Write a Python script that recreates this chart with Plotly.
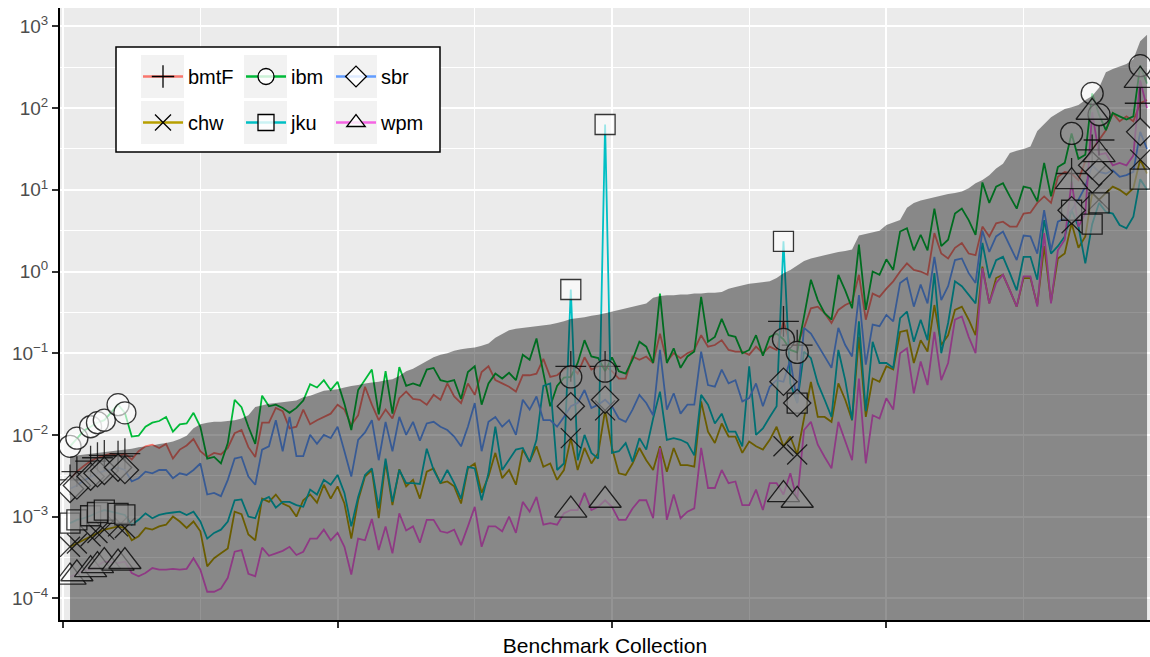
import plotly.graph_objects as go

# ---------------- data (values stored as log10 of the plotted quantity) ----------------
# benchmark index 1..158 (sorted by the reference quantity shown as the grey area)
n_bench = 158
bench = list(range(1, n_bench + 1))

area_log10 = [
    -2.26, -2.25, -2.24, -2.23, -2.22, -2.21, -2.20, -2.19, -2.18,
    -2.17, -2.15, -2.14, -2.13, -2.11, -2.10, -2.08, -2.05, -2.01, -1.92,
    -1.87, -1.85, -1.84, -1.84, -1.83, -1.82, -1.80, -1.76, -1.66, -1.64,
    -1.62, -1.61, -1.60, -1.59, -1.58, -1.54, -1.52, -1.49, -1.46, -1.45,
    -1.44, -1.42, -1.40, -1.39, -1.37, -1.36, -1.35, -1.33, -1.32, -1.28,
    -1.22, -1.19, -1.14, -1.10, -1.05, -1.02, -1.00, -0.97, -0.95, -0.94,
    -0.93, -0.91, -0.88, -0.81, -0.77, -0.72, -0.70, -0.69, -0.68, -0.67,
    -0.66, -0.65, -0.63, -0.61, -0.58, -0.57, -0.56, -0.54, -0.53, -0.51,
    -0.49, -0.47, -0.45, -0.43, -0.41, -0.39, -0.32, -0.30, -0.29, -0.29,
    -0.28, -0.28, -0.27, -0.27, -0.26, -0.26, -0.25, -0.21, -0.19, -0.17,
    -0.15, -0.14, -0.13, -0.12, -0.08, -0.02, 0.02, 0.07, 0.13, 0.16,
    0.18, 0.20, 0.22, 0.24, 0.25, 0.27, 0.44, 0.46, 0.48, 0.50,
    0.57, 0.60, 0.63, 0.78, 0.84, 0.87, 0.89, 0.91, 0.93, 0.95,
    0.96, 0.98, 1.02, 1.08, 1.12, 1.18, 1.26, 1.32, 1.45, 1.48,
    1.50, 1.53, 1.72, 1.80, 1.89, 1.94, 1.99, 2.01, 2.04, 2.10,
    2.15, 2.25, 2.44, 2.48, 2.51, 2.54, 2.60, 2.82, 2.90,
]

bmtF_log10 = [
    -2.55, -2.45, -2.38, -2.32, -2.28, -2.25, -2.23, -2.26, -2.23,
    -2.30, -2.20, -2.14, -2.12, -2.16, -2.11, -2.29, -2.18, -2.13, -2.05,
    -2.20, -2.27, -2.22, -2.24, -2.16, -1.98, -1.94, -2.15, -2.27, -1.85,
    -1.85, -1.67, -1.71, -1.92, -1.90, -1.69, -1.87, -1.82, -1.78, -1.74,
    -1.63, -1.69, -1.88, -1.76, -1.41, -1.63, -1.82, -1.69, -1.80, -1.55,
    -1.47, -1.56, -1.57, -1.63, -1.51, -1.57, -1.37, -1.53, -1.61, -1.37,
    -1.51, -1.23, -1.16, -1.33, -1.37, -1.41, -1.47, -1.27, -1.27, -1.25,
    -1.07, -1.29, -1.27, -1.20, -1.16, -1.25, -1.05, -1.20, -1.16, -1.16,
    -1.22, -1.31, -1.31, -1.04, -1.08, -1.04, -1.12, -0.76, -1.10, -1.00,
    -1.06, -1.00, -0.96, -0.78, -0.92, -0.90, -0.84, -0.96, -0.98, -0.98,
    -1.02, -0.92, -1.00, -0.92, -0.96, -0.61, -0.90, -0.90, -0.69, -0.45,
    -0.43, -0.51, -0.63, -0.47, -0.41, -0.37, -0.04, -0.59, -0.27, -0.31,
    -0.21, -0.12, 0.00, 0.10, 0.02, 0.00, -0.04, 0.47, 0.22, 0.16,
    0.29, 0.35, 0.22, 0.20, 0.55, 0.43, 0.59, 0.61, 0.55, 0.55,
    0.71, 0.72, 0.84, 0.92, 0.84, 1.16, 1.22, 1.20, 1.12, 1.35,
    1.49, 1.61, 1.73, 1.94, 1.84, 1.90, 1.84, 2.06, 2.10,
]

chw_log10 = [
    -3.37, -3.33, -3.28, -3.24, -3.20, -3.16, -3.14, -3.12, -3.14,
    -3.29, -3.24, -3.14, -3.16, -3.12, -3.10, -3.00, -3.06, -3.14, -3.06,
    -3.18, -3.61, -3.51, -3.45, -3.39, -2.94, -2.97, -3.22, -3.29, -2.78,
    -2.82, -2.73, -2.84, -2.88, -3.00, -2.80, -2.73, -2.83, -2.61, -2.78,
    -2.63, -2.84, -3.27, -2.80, -2.51, -2.43, -3.02, -2.33, -2.86, -2.42,
    -2.63, -2.55, -2.78, -2.45, -2.41, -2.59, -2.57, -2.63, -2.84, -2.41,
    -2.35, -2.71, -2.51, -2.22, -2.53, -2.43, -2.61, -2.18, -2.33, -2.14,
    -2.39, -2.35, -2.55, -2.43, -2.04, -2.43, -2.16, -2.35, -2.22, -1.70,
    -2.16, -2.47, -2.49, -2.35, -2.16, -2.31, -2.43, -2.14, -2.45, -2.16,
    -2.37, -2.37, -2.39, -1.59, -1.96, -2.10, -1.86, -2.02, -2.02, -2.22,
    -2.08, -2.14, -2.18, -2.06, -1.90, -2.14, -2.02, -2.24, -1.78, -1.35,
    -1.78, -1.78, -1.84, -1.37, -1.57, -1.82, -0.80, -1.78, -1.31, -1.35,
    -1.16, -1.20, -0.74, -0.72, -1.12, -0.84, -0.98, -0.41, -0.90, -0.78,
    -0.47, -0.43, -0.59, -0.78, 0.06, -0.39, -0.08, -0.04, -0.23, -0.43,
    -0.08, -0.08, -0.41, 0.31, -0.37, 0.16, 0.22, 0.59, 0.29, 0.43,
    0.96, 0.88, 0.96, 1.04, 1.00, 0.94, 1.02, 1.37, 1.20,
]

ibm_log10 = [
    -2.14, -2.04, -1.95, -1.90, -1.85, -1.82, -1.72, -1.63, -1.73,
    -2.02, -2.01, -1.90, -1.85, -1.83, -1.78, -1.96, -1.87, -1.86, -1.73,
    -1.90, -2.29, -2.27, -2.35, -2.10, -1.57, -1.66, -1.90, -2.11, -1.52,
    -1.65, -1.63, -1.67, -1.73, -1.67, -1.58, -1.38, -1.42, -1.33, -1.45,
    -1.35, -1.62, -1.94, -1.45, -1.33, -1.20, -1.75, -1.22, -1.74, -1.17,
    -1.40, -1.37, -1.40, -1.20, -1.18, -1.33, -1.35, -1.33, -1.56, -1.23,
    -1.16, -1.63, -1.37, -1.25, -1.31, -1.24, -1.33, -1.02, -1.08, -0.82,
    -1.24, -1.65, -1.40, -1.30, -1.29, -1.12, -0.84, -1.04, -1.06, -1.22,
    -1.05, -1.22, -1.25, -1.08, -0.86, -0.92, -1.12, -0.27, -1.12, -0.94,
    -1.18, -1.04, -0.98, -0.31, -0.86, -0.80, -0.58, -0.78, -0.80, -1.00,
    -0.96, -0.78, -1.03, -0.80, -0.76, -0.83, -0.96, -0.99, -0.55, -0.10,
    -0.35, -0.51, -0.59, -0.04, -0.23, -0.45, 0.33, -0.47, 0.00, -0.04,
    0.15, 0.02, 0.49, 0.53, 0.26, 0.45, 0.26, 0.77, 0.31, 0.39,
    0.71, 0.77, 0.63, 0.45, 1.09, 0.84, 1.04, 1.08, 0.92, 0.77,
    1.04, 1.02, 0.86, 1.33, 0.92, 1.28, 1.33, 1.69, 1.38, 1.43,
    2.18, 1.92, 1.73, 1.94, 1.90, 1.86, 1.90, 2.52, 2.30,
]

jku_log10 = [
    -3.08, -3.04, -3.02, -2.99, -2.95, -2.92, -2.94, -2.96, -2.98,
    -3.10, -3.04, -2.96, -3.02, -2.98, -2.96, -2.95, -2.94, -2.98, -2.94,
    -3.06, -3.27, -3.20, -3.16, -3.06, -2.80, -2.79, -3.00, -3.02, -2.80,
    -2.76, -2.89, -2.82, -2.82, -2.86, -2.88, -2.67, -2.73, -2.55, -2.61,
    -2.49, -2.71, -3.12, -2.76, -2.49, -2.41, -2.90, -2.29, -2.82, -2.43,
    -2.59, -2.59, -2.60, -2.17, -2.43, -2.59, -2.43, -2.59, -2.78, -2.39,
    -2.41, -2.80, -2.47, -1.90, -2.43, -2.31, -2.18, -2.16, -2.33, -2.06,
    -1.40, -1.37, -2.43, -2.35, -0.22, -2.31, -2.00, -2.22, -2.29, 1.80,
    -2.22, -2.20, -2.10, -2.33, -2.04, -2.18, -1.80, -1.47, -2.06, -2.04,
    -2.06, -2.10, -2.25, -1.51, -1.63, -1.86, -1.74, -1.96, -1.96, -2.14,
    -1.16, -2.00, -1.92, -1.78, -1.65, 0.37, -1.37, -1.61, -0.98, -1.06,
    -1.37, -1.57, -1.78, -0.96, -1.33, -1.82, -0.61, -1.71, -0.86, -1.12,
    -1.12, -1.18, -0.57, -0.49, -0.86, -0.59, -0.84, -0.02, -1.00, -0.63,
    -0.12, -0.18, -0.29, -0.39, 0.35, -0.08, 0.14, 0.18, -0.02, -0.23,
    0.18, 0.18, -0.10, 0.63, 0.22, 0.31, 0.43, 0.75, 0.55, 0.10,
    0.58, 0.84, 0.73, 0.71, 0.57, 0.53, 0.67, 1.13, 1.00,
]

sbr_log10 = [
    -2.66, -2.62, -2.56, -2.51, -2.47, -2.44, -2.42, -2.40, -2.43,
    -2.57, -2.53, -2.45, -2.47, -2.43, -2.43, -2.53, -2.47, -2.49, -2.43,
    -2.35, -2.73, -2.71, -2.75, -2.55, -2.29, -2.27, -2.51, -2.61, -2.18,
    -2.14, -1.82, -2.20, -1.78, -2.26, -2.26, -2.00, -2.11, -2.00, -2.04,
    -1.90, -2.20, -2.51, -2.06, -1.97, -1.82, -2.31, -1.84, -2.20, -1.78,
    -2.00, -1.84, -2.07, -1.86, -1.84, -1.90, -1.94, -2.02, -2.14, -1.90,
    -1.61, -2.20, -1.84, -1.78, -1.90, -1.82, -2.00, -1.57, -1.69, -1.53,
    -1.82, -1.82, -1.90, -1.78, -1.65, -1.61, -1.45, -1.67, -1.63, -1.57,
    -1.65, -1.80, -1.84, -1.69, -1.51, -1.61, -1.76, -0.96, -1.69, -1.49,
    -1.74, -1.63, -1.63, -0.98, -1.39, -1.41, -1.20, -1.37, -1.33, -1.59,
    -1.55, -1.37, -1.65, -1.41, -1.33, -1.35, -1.08, -1.61, -0.69, -0.76,
    -0.90, -1.04, -1.18, -0.69, -0.90, -1.04, -0.29, -1.14, -0.65, -0.67,
    -0.53, -0.61, -0.14, -0.08, -0.43, -0.16, -0.39, 0.18, -0.35, -0.18,
    0.14, 0.16, -0.02, -0.14, 0.50, 0.24, 0.43, 0.49, 0.31, 0.14,
    0.44, 0.43, 0.22, 0.75, 0.26, 0.61, 0.65, 0.75, 0.88, 1.04,
    1.30, 1.22, 1.20, 1.24, 1.16, 1.18, 1.22, 1.71, 1.50,
]

wpm_log10 = [
    -3.74, -3.70, -3.66, -3.65, -3.60, -3.55, -3.56, -3.57, -3.55,
    -3.69, -3.73, -3.69, -3.63, -3.65, -3.65, -3.64, -3.65, -3.64, -3.51,
    -3.65, -3.92, -3.92, -3.88, -3.75, -3.43, -3.41, -3.70, -3.73, -3.38,
    -3.48, -3.45, -3.42, -3.37, -3.47, -3.43, -3.27, -3.27, -3.16, -3.29,
    -3.20, -3.37, -3.71, -3.27, -3.29, -3.03, -3.41, -3.12, -3.45, -2.96,
    -3.17, -3.12, -3.32, -3.04, -3.04, -3.18, -3.20, -3.16, -3.35, -3.12,
    -2.88, -3.37, -3.12, -3.12, -3.18, -3.00, -3.20, -2.82, -2.94, -2.76,
    -3.10, -3.08, -3.10, -2.96, -2.92, -2.92, -2.71, -2.92, -2.88, -2.80,
    -2.88, -3.04, -3.04, -2.90, -2.80, -2.80, -3.02, -2.16, -3.04, -2.73,
    -3.02, -2.94, -2.90, -2.16, -2.65, -2.65, -2.43, -2.59, -2.57, -2.86,
    -2.86, -2.67, -2.92, -2.59, -2.59, -2.73, -2.47, -2.80, -1.94, -1.84,
    -2.12, -2.27, -2.41, -1.84, -2.08, -2.31, -1.31, -2.35, -1.76, -1.80,
    -1.55, -1.69, -1.00, -0.94, -1.49, -1.10, -1.39, -0.74, -1.33, -1.12,
    -0.59, -0.55, -0.80, -1.00, 0.04, -0.39, -0.14, -0.04, -0.23, -0.43,
    -0.06, -0.06, -0.43, 0.47, -0.39, 0.26, 0.39, 1.10, 0.55, 0.71,
    1.95, 1.43, 1.45, 1.30, 1.33, 1.30, 1.42, 2.34, 2.00,
]

# benchmarks highlighted with symbols
marked_bench = [1, 2, 4, 5, 6, 8, 9, 74, 79, 105, 107, 147, 150, 151, 157]

series_names = ["bmtF", "chw", "ibm", "jku", "sbr", "wpm"]
series_log10 = [bmtF_log10, chw_log10, ibm_log10, jku_log10, sbr_log10, wpm_log10]
y_tick_exponents = [-4, -3, -2, -1, 0, 1, 2, 3]
x_tick_values = [0, 40, 80, 120]
x_minor_values = [20, 60, 100, 140]

for s in series_log10 + [area_log10]:
    assert len(s) == n_bench, len(s)

# ---------------- styling ----------------
colors = {"bmtF": "#F8766D", "chw": "#B79F00", "ibm": "#00BA38",
          "jku": "#00BFC4", "sbr": "#619CFF", "wpm": "#F564E3"}
symbols = {"bmtF": "cross-thin-open", "chw": "x-thin-open", "ibm": "circle",
           "jku": "square", "sbr": "diamond", "wpm": "triangle-up"}
sizes = {"bmtF": 22, "chw": 20, "ibm": 22, "jku": 20, "sbr": 21, "wpm": 28}
FONT = "Liberation Sans, Arial, Helvetica, sans-serif"
MARK_LINE = "rgba(20,20,20,0.85)"
MARK_FILL = "rgba(255,255,255,0.6)"

fig = go.Figure()

# lines
for name, vals in zip(series_names, series_log10):
    fig.add_trace(go.Scatter(
        x=bench, y=[10 ** v for v in vals], mode="lines",
        line=dict(color=colors[name], width=1.8), showlegend=False,
        hoverinfo="skip"))

# symbols at highlighted benchmarks
for name, vals in zip(series_names, series_log10):
    thin = symbols[name].endswith("thin-open")
    fig.add_trace(go.Scatter(
        x=marked_bench, y=[10 ** vals[b - 1] for b in marked_bench],
        mode="markers", showlegend=False, hoverinfo="skip",
        marker=dict(symbol=symbols[name], size=sizes[name],
                    color=MARK_LINE if thin else MARK_FILL,
                    line=dict(color=MARK_LINE, width=1.3))))

# grey area on top (semi-transparent)
fig.add_trace(go.Scatter(
    x=bench, y=[10 ** v for v in area_log10], mode="lines", fill="tozeroy",
    fillcolor="rgba(0,0,0,0.42)", line=dict(width=0, color="rgba(0,0,0,0)"),
    showlegend=False, hoverinfo="skip"))

# ---------------- legend (one legend per key, laid out 3 x 2) ----------------
W, H = 1150, 657
L, R, T, B = 60, 0, 8, 37
pw, ph = W - L - R, H - T - B


def px_x(px):
    return (px - L) / pw


def px_y(py):
    return 1 - (py - T) / ph


legend_order = ["bmtF", "ibm", "sbr", "chw", "jku", "wpm"]
key_left = [141, 244, 334]
row_mid = [76.5, 122.5]
legend_layouts = {}
shapes = [dict(type="rect", xref="paper", yref="paper",
               x0=px_x(116), x1=px_x(440), y0=px_y(152), y1=px_y(47),
               fillcolor="white", line=dict(color="black", width=1.5),
               layer="above")]
for k, name in enumerate(legend_order):
    col, row = k % 3, k // 3
    lg_id = "legend" if k == 0 else f"legend{k + 1}"
    legend_layouts[lg_id] = dict(
        x=px_x(key_left[col] - 3), y=px_y(row_mid[row]), xanchor="left",
        yanchor="middle", bgcolor="rgba(0,0,0,0)", borderwidth=0,
        font=dict(family=FONT, size=20, color="black"), itemwidth=40)
    shapes.append(dict(type="rect", xref="paper", yref="paper",
                       x0=px_x(key_left[col]), x1=px_x(key_left[col] + 43),
                       y0=px_y(row_mid[row] + 21.5), y1=px_y(row_mid[row] - 21.5),
                       fillcolor="#F2F2F2", line=dict(width=0), layer="above"))
    thin = symbols[name].endswith("thin-open")
    fig.add_trace(go.Scatter(
        x=[None], y=[None], mode="lines+markers", name=name, legend=lg_id,
        line=dict(color=colors[name], width=2.5),
        marker=dict(symbol=symbols[name], size=16,
                    color="black" if thin else "rgba(255,255,255,0.8)",
                    line=dict(color="black", width=1.3))))

y_ticktext = [f"10<sup>{e}</sup>".replace("-", "\u2212") for e in y_tick_exponents]

fig.update_layout(
    width=W, height=H, margin=dict(l=L, r=R, t=T, b=B, autoexpand=False),
    paper_bgcolor="white", plot_bgcolor="#EBEBEB",
    font=dict(family=FONT, color="#4D4D4D"),
    shapes=shapes, **legend_layouts,
    xaxis=dict(range=[-0.46, 158.43], tickvals=x_tick_values, showticklabels=False,
               ticks="outside", ticklen=6, tickwidth=1.5, tickcolor="#333333",
               showgrid=True, gridcolor="white", gridwidth=2, zeroline=False,
               showline=True, linecolor="black", linewidth=2,
               minor=dict(tickvals=x_minor_values, showgrid=True, gridcolor="white",
                          gridwidth=1, ticklen=0),
               title=dict(text="Benchmark Collection", standoff=12,
                          font=dict(family=FONT, size=21, color="black"))),
    yaxis=dict(type="log", range=[-4.266, 3.226],
               tickvals=[10 ** e for e in y_tick_exponents], ticktext=y_ticktext,
               tickfont=dict(family=FONT, size=19, color="#4D4D4D"),
               ticks="outside", ticklen=6, tickwidth=1.5, tickcolor="#333333",
               showgrid=True, gridcolor="white", gridwidth=2, zeroline=False,
               showline=True, linecolor="black", linewidth=2,
               minor=dict(tickvals=[10 ** (e + 0.5) for e in y_tick_exponents[:-1]],
                          showgrid=True, gridcolor="white", gridwidth=1, ticklen=0)),
)

fig.write_html("out.html")
